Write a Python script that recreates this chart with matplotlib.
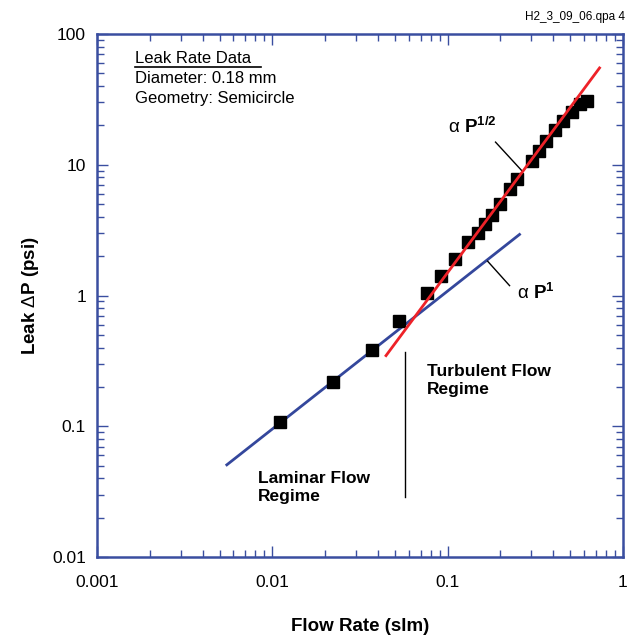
import numpy as np
from matplotlib import pyplot as plt
from matplotlib.ticker import LogLocator, NullFormatter, FixedLocator, FixedFormatter

# Data
flow = [0.0110, 0.0221, 0.0369, 0.0526, 0.0759, 0.0918, 0.1096, 0.130, 0.148,
        0.163, 0.178, 0.198, 0.226, 0.247, 0.301, 0.330, 0.366, 0.407, 0.452,
        0.509, 0.565, 0.620]
dp = [0.108, 0.219, 0.386, 0.643, 1.05, 1.40, 1.89, 2.55, 2.99,
      3.50, 4.10, 4.98, 6.49, 7.74, 10.6, 12.7, 15.1, 18.4, 21.5,
      25.3, 29.1, 30.7]

laminar_x = [0.0055, 0.257]
laminar_y = [0.0507, 2.93]
turb_x = [0.0445, 0.735]
turb_y = [0.347, 55.0]

x_ticks = [0.001, 0.01, 0.1, 1]
x_labels = ["0.001", "0.01", "0.1", "1"]
y_ticks = [0.01, 0.1, 1, 10, 100]
y_labels = ["0.01", "0.1", "1", "10", "100"]

axis_col = "#3A4EA0"
blue = "#34479C"
red = "#EE2228"

plt.rcParams['font.family'] = ['Liberation Sans', 'DejaVu Sans']
plt.rcParams['mathtext.fontset'] = 'custom'
plt.rcParams['mathtext.rm'] = 'Liberation Sans'
plt.rcParams['mathtext.bf'] = 'Liberation Sans:bold'

fig = plt.figure(figsize=(6.28, 6.39), dpi=100)
ax = fig.add_axes([0.1545, 0.1283, 0.8375, 0.8185])
ax.set_xscale('log')
ax.set_yscale('log')
ax.set_xlim(0.001, 1)
ax.set_ylim(0.01, 100)

ax.plot(laminar_x, laminar_y, color=blue, lw=2, zorder=2)
ax.plot(turb_x, turb_y, color=red, lw=2, zorder=4)
ax.plot(flow, dp, 's', color='black', ms=8.5, zorder=3)

# leader lines and regime divider
ax.plot([0.1875, 0.267], [14.9, 8.9], color='black', lw=1)
ax.plot([0.169, 0.2255], [1.83, 1.19], color='black', lw=1)
ax.plot([0.0569, 0.0569], [0.372, 0.0288], color='black', lw=1)

ax.text(0.1, 19.4, r"α $\mathbf{P^{1/2}}$", fontsize=13.5, va='center')
ax.text(0.247, 1.05, r"α $\mathbf{P^{1}}$", fontsize=13.5, va='center')
ax.text(0.076, 0.225, "Turbulent Flow\nRegime", fontsize=12.5, fontweight='bold',
        va='center', linespacing=1.27)
ax.text(0.0083, 0.034, "Laminar Flow\nRegime", fontsize=12.5, fontweight='bold',
        va='center', linespacing=1.27)

t1 = ax.text(0.072, 0.967, "Leak Rate Data\nDiameter: 0.18 mm\nGeometry: Semicircle",
             transform=ax.transAxes, fontsize=12, va='top', linespacing=1.39)

fig.text(0.995, 0.968, "H2_3_09_06.qpa 4", ha='right', fontsize=8.5)

ax.xaxis.set_major_locator(FixedLocator(x_ticks))
ax.xaxis.set_major_formatter(FixedFormatter(x_labels))
ax.yaxis.set_major_locator(FixedLocator(y_ticks))
ax.yaxis.set_major_formatter(FixedFormatter(y_labels))
ax.xaxis.set_minor_locator(LogLocator(base=10, subs=np.arange(2, 10)))
ax.yaxis.set_minor_locator(LogLocator(base=10, subs=np.arange(2, 10)))
ax.xaxis.set_minor_formatter(NullFormatter())
ax.yaxis.set_minor_formatter(NullFormatter())

for s in ax.spines.values():
    s.set_color(axis_col)
    s.set_linewidth(1.8)
ax.tick_params(which='both', direction='in', top=True, right=True, color=axis_col,
               labelsize=12.5, width=1)
ax.tick_params(which='major', length=8, pad=8)
ax.tick_params(axis='x', which='major', pad=13)
ax.tick_params(which='minor', length=5)

ax.set_xlabel("Flow Rate (slm)", fontsize=13.5, fontweight='bold', labelpad=20)
ax.set_ylabel(r"Leak $\Delta$P (psi)", fontsize=13.5, fontweight='bold', labelpad=8)

# underline under the first title line (stops short of the end, like the source)
fig.canvas.draw()
r = fig.canvas.get_renderer()
bb = t1.get_window_extent(r).transformed(fig.transFigure.inverted())
line_h = (bb.y1 - bb.y0) / 3
yline = bb.y1 - line_h * 0.85
fig.add_artist(plt.Line2D([bb.x0, bb.x0 + (bb.x1 - bb.x0) * 0.79], [yline, yline],
                          transform=fig.transFigure, color='black', lw=1.2))

fig.savefig("out.png", dpi=100)
